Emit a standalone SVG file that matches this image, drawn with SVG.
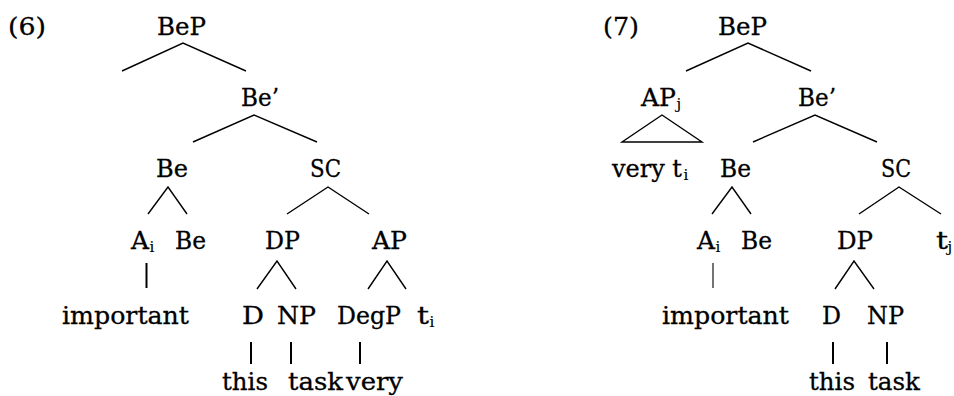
<svg xmlns="http://www.w3.org/2000/svg" width="954" height="396" viewBox="0 0 954 396">
  <style>
    text { font-family: "DejaVu Serif", "Liberation Serif", serif; font-size: 25px; fill: #000; stroke: #000; stroke-width: 0.3; }
    text.sub { font-size: 15px; stroke-width: 0.2; }
    .edge { stroke: #000; stroke-width: 1.4; fill: none; stroke-linecap: butt; }
    .bar { stroke: #000; stroke-width: 2; fill: none; }
    .thin { stroke: #000; stroke-width: 1.1; fill: none; }
  </style>

  <!-- Tree (6) -->
  <g id="label-6"><text x="8" y="34.5" textLength="38" lengthAdjust="spacingAndGlyphs">(6)</text></g>
  <g id="t6-BeP"><text x="157" y="34.5" textLength="49" lengthAdjust="spacingAndGlyphs">BeP</text></g>
  <g id="t6-Bebar"><text x="241" y="106" textLength="38" lengthAdjust="spacingAndGlyphs">Be’</text></g>
  <g id="t6-Be"><text x="156" y="177" textLength="32" lengthAdjust="spacingAndGlyphs">Be</text></g>
  <g id="t6-SC"><text x="310" y="177" textLength="31" lengthAdjust="spacingAndGlyphs">SC</text></g>
  <g id="t6-Ai"><text x="131" y="249" textLength="18" lengthAdjust="spacingAndGlyphs">A</text><text class="sub" x="149.5" y="252">i</text></g>
  <g id="t6-Be2"><text x="175" y="249" textLength="31" lengthAdjust="spacingAndGlyphs">Be</text></g>
  <g id="t6-DP"><text x="265" y="249" textLength="35" lengthAdjust="spacingAndGlyphs">DP</text></g>
  <g id="t6-AP"><text x="372" y="249" textLength="35" lengthAdjust="spacingAndGlyphs">AP</text></g>
  <g id="t6-important"><text x="62" y="324" textLength="127" lengthAdjust="spacingAndGlyphs">important</text></g>
  <g id="t6-D"><text x="242" y="324" textLength="22" lengthAdjust="spacingAndGlyphs">D</text></g>
  <g id="t6-NP"><text x="277" y="324" textLength="39" lengthAdjust="spacingAndGlyphs">NP</text></g>
  <g id="t6-DegP"><text x="337" y="324" textLength="64" lengthAdjust="spacingAndGlyphs">DegP</text></g>
  <g id="t6-ti"><text x="417" y="324" textLength="12" lengthAdjust="spacingAndGlyphs">t</text><text class="sub" x="429.5" y="327">i</text></g>
  <g id="t6-this"><text x="222" y="390" textLength="46" lengthAdjust="spacingAndGlyphs">this</text></g>
  <g id="t6-task"><text x="288" y="390" textLength="55" lengthAdjust="spacingAndGlyphs">task</text></g>
  <g id="t6-very"><text x="346" y="390" textLength="57" lengthAdjust="spacingAndGlyphs">very</text></g>

  <!-- Tree (7) -->
  <g id="label-7"><text x="603" y="34.5" textLength="36" lengthAdjust="spacingAndGlyphs">(7)</text></g>
  <g id="t7-BeP"><text x="718" y="34.5" textLength="49" lengthAdjust="spacingAndGlyphs">BeP</text></g>
  <g id="t7-APj"><text x="641" y="106" textLength="35" lengthAdjust="spacingAndGlyphs">AP</text><text class="sub" x="676.5" y="109">j</text></g>
  <g id="t7-Bebar"><text x="798" y="106" textLength="38" lengthAdjust="spacingAndGlyphs">Be’</text></g>
  <g id="t7-veryti"><text x="612" y="177" textLength="70" lengthAdjust="spacingAndGlyphs">very t</text><text class="sub" x="683.5" y="180">i</text></g>
  <g id="t7-Be"><text x="720" y="177" textLength="31" lengthAdjust="spacingAndGlyphs">Be</text></g>
  <g id="t7-SC"><text x="881" y="177" textLength="30" lengthAdjust="spacingAndGlyphs">SC</text></g>
  <g id="t7-Ai"><text x="697" y="249" textLength="18" lengthAdjust="spacingAndGlyphs">A</text><text class="sub" x="715.5" y="252">i</text></g>
  <g id="t7-Be2"><text x="741" y="249" textLength="31" lengthAdjust="spacingAndGlyphs">Be</text></g>
  <g id="t7-DP"><text x="837" y="249" textLength="36" lengthAdjust="spacingAndGlyphs">DP</text></g>
  <g id="t7-tj"><text x="936" y="249" textLength="12" lengthAdjust="spacingAndGlyphs">t</text><text class="sub" x="947.5" y="252">j</text></g>
  <g id="t7-important"><text x="662" y="324" textLength="127" lengthAdjust="spacingAndGlyphs">important</text></g>
  <g id="t7-D"><text x="822" y="324" textLength="19" lengthAdjust="spacingAndGlyphs">D</text></g>
  <g id="t7-NP"><text x="867" y="324" textLength="37" lengthAdjust="spacingAndGlyphs">NP</text></g>
  <g id="t7-this"><text x="809" y="390" textLength="46" lengthAdjust="spacingAndGlyphs">this</text></g>
  <g id="t7-task"><text x="868" y="390" textLength="52" lengthAdjust="spacingAndGlyphs">task</text></g>

  <!-- Branches -->
  <g id="connectors">
    <!-- (6) -->
    <path class="edge" d="M122,71 L183,43 L246,71"/>
    <path class="edge" d="M193,142 L254,115 L317,142"/>
    <path class="edge" d="M148,214 L168,187 L187,214"/>
    <path class="edge" d="M287,214 L328,187 L369,214"/>
    <path class="bar" d="M146.5,263 V288"/>
    <path class="edge" d="M257,289 L277,261 L296,289"/>
    <path class="edge" d="M368,289 L387,261 L406,289"/>
    <path class="bar" d="M251,342 V364 M291,342 V364 M360,342 V364"/>
    <!-- (7) -->
    <path class="edge" d="M686,71 L748,43 L811,71"/>
    <path class="edge" d="M622,142 L662,115 L702,142 Z"/>
    <path class="edge" d="M753,142 L815,115 L877,142"/>
    <path class="edge" d="M712,214 L732,187 L751,214"/>
    <path class="edge" d="M859,214 L899,187 L941,214"/>
    <path class="thin" d="M713,263 V288"/>
    <path class="edge" d="M835,289 L854,261 L874,289"/>
    <path class="bar" d="M833,342 V364 M887,342 V364"/>
  </g>
</svg>
